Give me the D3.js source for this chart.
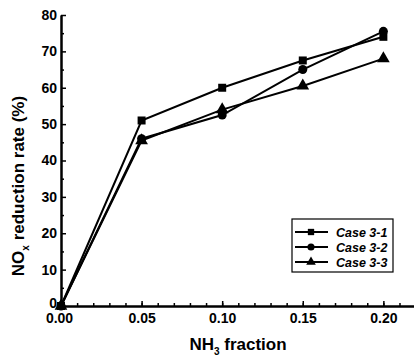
<!DOCTYPE html>
<html>
<head>
<meta charset="utf-8">
<script src="https://cdn.jsdelivr.net/npm/d3@7"></script>
<style>
  body { margin: 0; background: #fff; }
  svg { display: block; font-family: "Liberation Sans", Arial, sans-serif; }
</style>
</head>
<body>
<svg id="chart" width="414" height="364"></svg>
<script>
// NH3 fraction values on the x axis
var fractions = [0.00, 0.05, 0.10, 0.15, 0.20];

// NOx reduction rate (%) per case
var case31 = [0, 51, 60, 67.5, 74];
var case32 = [0, 46, 52.5, 65, 75.5];
var case33 = [0, 45.5, 54, 60.5, 68];

var seriesNames = ["Case 3-1", "Case 3-2", "Case 3-3"];
var seriesValues = [case31, case32, case33];
var seriesSymbols = [d3.symbolSquare, d3.symbolCircle, d3.symbolTriangle];

var xTicks = [0.00, 0.05, 0.10, 0.15, 0.20];
var yTicks = [0, 10, 20, 30, 40, 50, 60, 70, 80];

var svg = d3.select("#chart");

var x = d3.scaleLinear().domain([0, 0.219]).range([61, 414]);
var y = d3.scaleLinear().domain([0, 80]).range([306, 15]);

// axes (ticks point inward)
var xAxis = d3.axisBottom(x).tickValues(xTicks).tickFormat(d3.format(".2f")).tickSizeInner(-5).tickSizeOuter(0).tickPadding(7);
var xMinor = d3.axisBottom(x).tickValues(d3.range(0, 0.22, 0.01)).tickFormat("").tickSizeInner(-3).tickSizeOuter(0);
var yAxis = d3.axisLeft(y).tickValues(yTicks).tickSizeInner(-5).tickSizeOuter(0).tickPadding(4);
var yMinor = d3.axisLeft(y).tickValues(d3.range(5, 80, 10)).tickFormat("").tickSizeInner(-3).tickSizeOuter(0);

function styleAxis(g) {
  g.selectAll("path").attr("stroke", "#000").attr("stroke-width", 2);
  g.selectAll("line").attr("stroke", "#000").attr("stroke-width", 1.5);
  g.selectAll("text").attr("fill", "#000").attr("font-size", 14).attr("font-weight", "bold");
}

svg.append("g").attr("transform", "translate(0,306)").call(xMinor).call(styleAxis);
svg.append("g").attr("transform", "translate(0,306)").call(xAxis).call(styleAxis)
  .selectAll("text").filter(function (d) { return d === 0; }).attr("dx", -2);
svg.append("g").attr("transform", "translate(61,0)").call(yMinor).call(styleAxis);
svg.append("g").attr("transform", "translate(61,0)").call(yAxis).call(styleAxis)
  .selectAll("text").filter(function (d) { return d === 0; }).attr("dy", "0.1em");

// axis titles
var xt = svg.append("text").attr("x", 238).attr("y", 350).attr("text-anchor", "middle")
  .attr("font-size", 17).attr("font-weight", "bold");
xt.append("tspan").text("NH");
xt.append("tspan").attr("font-size", 10).attr("dy", 5).text("3");
xt.append("tspan").attr("dy", -5).text(" fraction");

var yt = svg.append("text").attr("transform", "translate(24,186) rotate(-90)").attr("text-anchor", "middle")
  .attr("font-size", 17).attr("font-weight", "bold");
yt.append("tspan").text("NO");
yt.append("tspan").attr("font-size", 10).attr("dy", 5).text("x");
yt.append("tspan").attr("dy", -5).text(" reduction rate (%)");

// series lines and markers
var line = d3.line().x(function (d, i) { return x(fractions[i]); }).y(function (d) { return y(d); });

seriesValues.forEach(function (vals, k) {
  svg.append("path").datum(vals).attr("d", line)
    .attr("fill", "none").attr("stroke", "#000").attr("stroke-width", 2);
  svg.selectAll(".m" + k).data(vals).enter().append("path")
    .attr("class", "m" + k)
    .attr("transform", function (d, i) { return "translate(" + x(fractions[i]) + "," + y(d) + ")"; })
    .attr("d", d3.symbol().type(seriesSymbols[k]).size(k === 2 ? 70 : 64))
    .attr("fill", "#000");
});

// legend
var legend = svg.append("g");
legend.append("rect").attr("x", 292).attr("y", 219).attr("width", 101).attr("height", 53)
  .attr("fill", "#fff").attr("stroke", "#000").attr("stroke-width", 1.2);
seriesNames.forEach(function (name, k) {
  var ly = 232 + k * 15;
  legend.append("line").attr("x1", 295).attr("x2", 328).attr("y1", ly).attr("y2", ly)
    .attr("stroke", "#000").attr("stroke-width", 2);
  legend.append("path").attr("transform", "translate(311," + ly + ")")
    .attr("d", d3.symbol().type(seriesSymbols[k]).size(40)).attr("fill", "#000");
  legend.append("text").attr("x", 336).attr("y", ly + 4.5).attr("font-size", 12.5)
    .attr("font-weight", "bold").attr("font-style", "italic").text(name);
});
</script>
</body>
</html>
